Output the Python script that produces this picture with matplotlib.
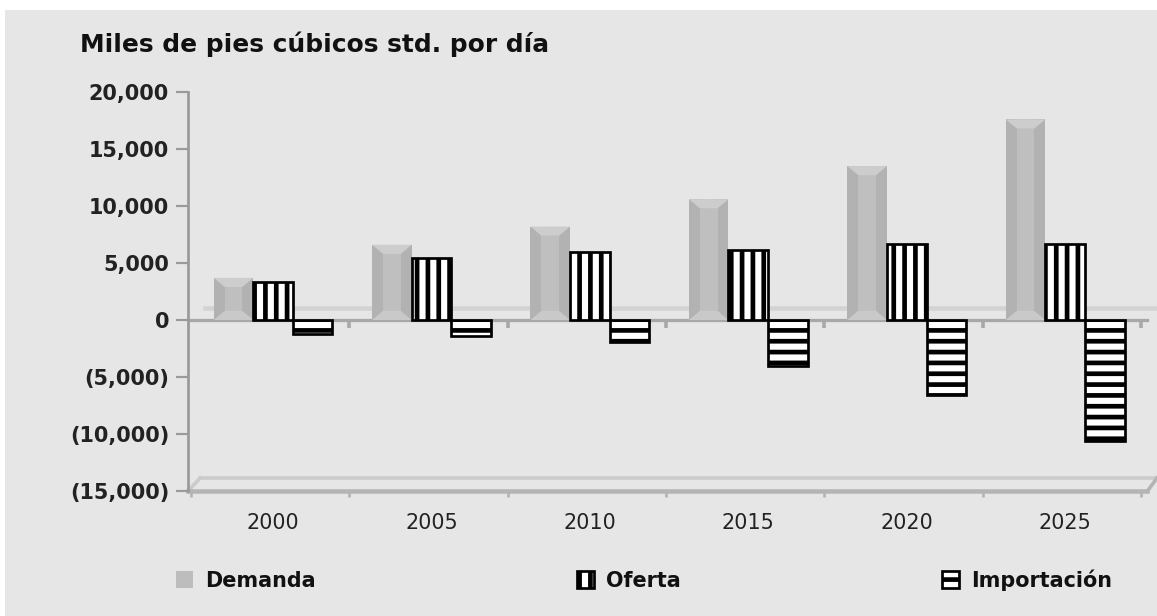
import matplotlib.pyplot as plt
from matplotlib.patches import Patch, Rectangle

# --- DATA ---
years = ['2000', '2005', '2010', '2015', '2020', '2025']
demanda = [3700, 6600, 8200, 10600, 13500, 17600]
oferta = [3300, 5400, 6000, 6100, 6700, 6700]
importacion = [-1200, -1400, -1900, -4000, -6600, -10600]
ytick_values = [20000, 15000, 10000, 5000, 0, -5000, -10000, -15000]
ytick_labels = ['20,000', '15,000', '10,000', '5,000', '0', '(5,000)', '(10,000)', '(15,000)']
title = 'Miles de pies cúbicos std. por día'

# --- STYLE ---
plt.rcParams['font.family'] = 'DejaVu Sans'
plt.rcParams['hatch.linewidth'] = 2.6
plt.rcParams['hatch.color'] = 'black'
bg = '#e6e6e6'
w = 0.25

fig = plt.figure(figsize=(1157 / 130, 616 / 130), dpi=130)
fig.patch.set_facecolor('white')
fig.patches.append(Rectangle((5 / 1157, 0), 1, 1 - 10 / 616, transform=fig.transFigure,
                             facecolor=bg, edgecolor='none', zorder=-5))

ax = fig.add_axes([188 / 1157, 1 - 491 / 616, 1 - 188 / 1157, (491 - 92) / 616])
ax.set_facecolor('none')
x = list(range(len(years)))
xmin, xmax = -0.537, 5.58
ax.set_xlim(xmin, xmax)
ax.set_ylim(-15000, 20000)

# back wall / floor of the pseudo 3D frame
ax.plot([-0.43, xmax], [1050, 1050], color='#d3d3d3', lw=2.5, zorder=1, clip_on=False)
ax.plot([-0.46, 5.58], [-13860, -13860], color='#cbcbcb', lw=2, zorder=1, clip_on=False)
ax.plot([xmin, -0.46], [-15000, -13860], color='#cbcbcb', lw=2, zorder=1, clip_on=False)
ax.plot([xmin, 5.52], [-15000, -15000], color='#b4b4b4', lw=2.5, zorder=1, clip_on=False)
ax.plot([5.52, 5.58], [-15000, -13860], color='#b4b4b4', lw=2, zorder=1, clip_on=False)

# zero line with ticks at category boundaries
bounds = [k - 0.52 for k in range(len(years) + 1)]
ax.plot([xmin, 5.52], [0, 0], color='#a8a8a8', lw=1.8, zorder=1.5)
ax.vlines(bounds[1:], -700, 0, color='#a8a8a8', lw=2, zorder=1.5)

# Demanda: grey bevelled bars
xd = [i - w for i in x]
ax.bar(xd, demanda, w, color='#b2b2b2', zorder=2)
ax.bar(xd, demanda, w * 0.45, color='#bfbfbf', zorder=2.1)
for xc, v in zip(xd, demanda):
    cap = min(800, v / 2)
    ax.fill([xc - w / 2, xc + w / 2, xc + w * 0.225, xc - w * 0.225],
            [v, v, v - cap, v - cap], color='#cdcdcd', lw=0, zorder=2.2)
    ax.fill([xc - w / 2, xc + w / 2, xc + w * 0.225, xc - w * 0.225],
            [0, 0, cap, cap], color='#c9c9c9', lw=0, zorder=2.2)

# Oferta and Importacion: hatched bars
ax.bar(x, oferta, w, color='white', edgecolor='black', hatch='||', lw=1.5, zorder=3)
ax.bar([i + w for i in x], importacion, w, color='white', edgecolor='black',
       hatch='--', lw=1.5, zorder=3)

# --- AXES ---
for s in ['top', 'right', 'bottom']:
    ax.spines[s].set_visible(False)
ax.spines['left'].set_color('#9a9a9a')
ax.spines['left'].set_linewidth(1.5)
ax.set_yticks(ytick_values)
ax.set_yticklabels(ytick_labels, fontsize=11.5, fontweight='bold', color='#222222')
ax.tick_params(axis='y', direction='out', length=6.5, width=1.2, color='#9a9a9a', pad=4)
ax.set_xticks(x)
ax.set_xticklabels(years, fontsize=11.5, color='#222222')
ax.tick_params(axis='x', length=0, pad=12)
ax.set_xticks(bounds, minor=True)
ax.tick_params(axis='x', which='minor', length=3.5, width=1.5, color='#b4b4b4', direction='out')

fig.text(80 / 1157, 1 - 44 / 616, title, fontsize=13.8, fontweight='heavy', va='center',
         color='#111111')

# --- LEGEND ---
handles = [Patch(facecolor='#bdbdbd', edgecolor='none'),
           Patch(facecolor='white', edgecolor='black', hatch='||', lw=1.5),
           Patch(facecolor='white', edgecolor='black', hatch='--', lw=1.5)]
leg = fig.legend(handles, ['Demanda', 'Oferta', 'Importación'], loc='center',
                 bbox_to_anchor=(176 / 1157, 1 - 580 / 616, (1112 - 176) / 1157, 0),
                 mode='expand', ncol=3, frameon=False, handlelength=0.8, handleheight=0.9,
                 handletextpad=0.6, borderpad=0, borderaxespad=0,
                 prop={'weight': 'bold', 'size': 11.5})
for t in leg.get_texts():
    t.set_color('#111111')

fig.savefig('out.png', dpi=130)
